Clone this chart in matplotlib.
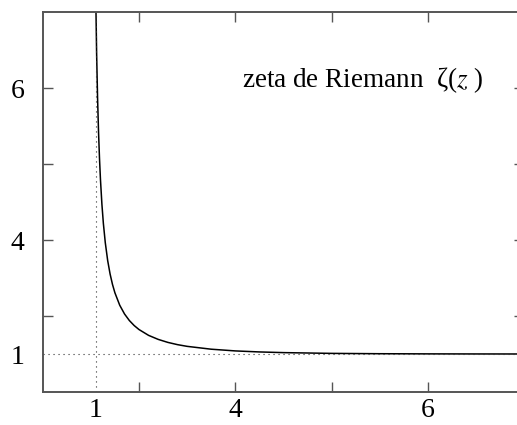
import matplotlib
matplotlib.use("Agg")
import matplotlib.pyplot as plt

plt.rcParams['font.family'] = ['Liberation Serif', 'DejaVu Serif']
plt.rcParams['mathtext.fontset'] = 'stix'

# zeta(x) (x > 1)
zeta_x = [1.10, 1.12, 1.14, 1.16, 1.18, 1.20, 1.23, 1.26, 1.30, 1.35, 1.40, 1.45,
          1.50, 1.60, 1.70, 1.80, 1.90, 2.00, 2.20, 2.40, 2.60, 2.80, 3.00, 3.50,
          4.00, 4.50, 5.00, 6.00, 7.00, 8.00, 9.00, 10.0, 10.5]
zeta_y = [10.584, 8.919, 7.730, 6.839, 6.146, 5.592, 4.942, 4.442, 3.932, 3.459, 3.106, 2.831,
          2.612, 2.285, 2.054, 1.882, 1.750, 1.645, 1.491, 1.385, 1.306, 1.247, 1.202, 1.127,
          1.082, 1.055, 1.037, 1.017, 1.008, 1.004, 1.002, 1.001, 1.0007]

pole_x = 1.1
asym_y = 1.0

xticks = [2, 4, 6, 8]
xtick_labels = ["", "4", "", "6"]
yticks = [2, 4, 6, 8]
ytick_labels = ["", "4", "", "6"]

fig = plt.figure(figsize=(5.17, 4.25), dpi=100)
ax = fig.add_axes([0.0826, 0.0776, 0.931, 0.894])

ax.plot(zeta_x, zeta_y, color="black", lw=1.1)
ax.axvline(pole_x, color="#333333", lw=0.8, ls=(0, (1, 3.5)))
ax.axhline(asym_y, color="#333333", lw=0.8, ls=(0, (1, 3.5)))

ax.set_xlim(0, 10)
ax.set_ylim(0, 10)

ax.set_xticks(xticks, xtick_labels)
ax.set_yticks(yticks, ytick_labels)
ax.set_xticks([pole_x], ["1"], minor=True)
ax.set_yticks([asym_y], ["1"], minor=True)

ax.tick_params(which="major", direction="in", length=7.5, width=1, color="#555555",
               top=True, right=True, labelsize=20)
ax.tick_params(which="minor", direction="in", length=0, top=False, right=False, labelsize=20)
ax.tick_params(axis="x", which="both", pad=4.5)
ax.tick_params(axis="y", which="both", pad=13)

for s in ax.spines.values():
    s.set_color("#555555")
    s.set_linewidth(1.4)

ax.text(4.14, 8.2, r"zeta de Riemann  ζ($z$ )", fontsize=19.5, va="center", ha="left")

fig.savefig("out.png", dpi=100)
